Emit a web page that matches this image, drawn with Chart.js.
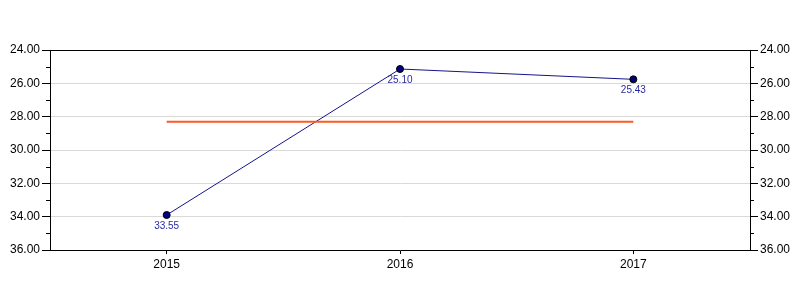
<!DOCTYPE html>
<html>
<head>
<meta charset="utf-8">
<script src="https://cdn.jsdelivr.net/npm/chart.js@4/dist/chart.umd.min.js"></script>
<style>
  html,body{margin:0;padding:0;background:#fff;}
  #wrap{width:800px;height:300px;}
</style>
</head>
<body>
<div id="wrap"><canvas id="chart"></canvas></div>
<script>
// data
var years = ["2015", "2016", "2017"];
var values = [33.9, 25.14, 25.76];          // where the dots sit
var valueLabels = ["33.55", "25.10", "25.43"]; // text printed under the dots
var average = [28.3, 28.3, 28.3];
var yMin = 24, yMax = 36;

// point labels + top border + minor ticks
var extras = {
    id: "extras",
    afterDatasetsDraw: function(chart){
        var ctx = chart.ctx;
        var meta = chart.getDatasetMeta(1);
        ctx.save();
        ctx.font = "10px 'Liberation Sans', Arial, sans-serif";
        ctx.fillStyle = "#2a2aa0";
        ctx.textAlign = "center";
        ctx.textBaseline = "middle";
        meta.data.forEach(function(pt, i){
            ctx.fillText(valueLabels[i], pt.x, pt.y + 11);
        });
        ctx.restore();
    },
    afterDraw: function(chart){
        var ctx = chart.ctx, a = chart.chartArea;
        ctx.save();
        ctx.strokeStyle = "#000";
        ctx.lineWidth = 1;
        ctx.beginPath();
        ctx.moveTo(a.left, a.top + 0.5);
        ctx.lineTo(a.right, a.top + 0.5);
        var y = chart.scales.y;
        for(var v = yMin + 1; v < yMax; v += 2){
            var py = Math.round(y.getPixelForValue(v)) + 0.5;
            ctx.moveTo(a.left - 4, py); ctx.lineTo(a.left, py);
            ctx.moveTo(a.right, py); ctx.lineTo(a.right + 4, py);
        }
        ctx.stroke();
        ctx.restore();
    }
};

var font = {family: "'Liberation Sans', Arial, sans-serif", size: 12};

var chart = new Chart(document.getElementById("chart"), {
    type: "line",
    data: {
        labels: years,
        datasets: [
            {
                label: "Average",
                data: average,
                borderColor: "#ff5a1e",
                borderWidth: 2,
                pointRadius: 0,
                pointHoverRadius: 0,
                yAxisID: "y"
            },
            {
                label: "Value",
                data: values,
                borderColor: "#14148c",
                borderWidth: 1,
                pointRadius: 3.5,
                pointBackgroundColor: "#000080",
                pointBorderColor: "#000",
                pointBorderWidth: 1,
                yAxisID: "y"
            }
        ]
    },
    options: {
        responsive: true,
        maintainAspectRatio: false,
        animation: false,
        layout: {padding: {top: 50, left: 0, right: 0, bottom: 0}},
        plugins: {legend: {display: false}, tooltip: {enabled: false}},
        scales: {
            x: {
                offset: true,
                border: {color: "#000", width: 1},
                grid: {drawOnChartArea: false, tickLength: 4, tickColor: "#000"},
                ticks: {color: "#000", font: font, padding: 3},
                afterFit: function(s){ s.height = 50; }
            },
            y: {
                position: "left",
                reverse: true,
                min: yMin, max: yMax,
                border: {color: "#000", width: 1},
                grid: {color: "#d9d9d9", tickColor: "#000", tickLength: 8},
                ticks: {
                    stepSize: 2, color: "#000", font: font, padding: 2,
                    callback: function(v){ return v.toFixed(2); }
                },
                afterFit: function(s){ s.width = 50; }
            },
            y2: {
                position: "right",
                reverse: true,
                min: yMin, max: yMax,
                border: {color: "#000", width: 1},
                grid: {drawOnChartArea: false, tickColor: "#000", tickLength: 8},
                ticks: {
                    stepSize: 2, color: "#000", font: font, padding: 2,
                    callback: function(v){ return v.toFixed(2); }
                },
                afterFit: function(s){ s.width = 50; }
            }
        }
    },
    plugins: [extras]
});
</script>
</body>
</html>
